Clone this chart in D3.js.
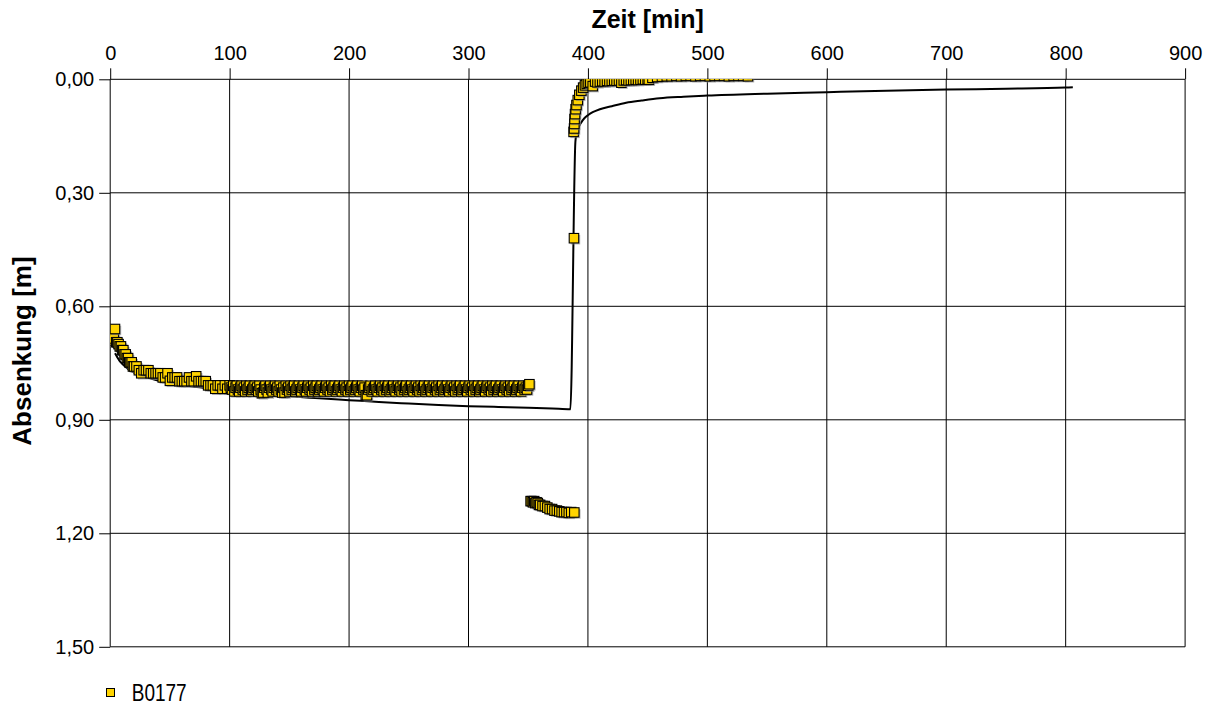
<!DOCTYPE html>
<html>
<head>
<meta charset="utf-8">
<script src="https://cdn.jsdelivr.net/npm/d3@7"></script>
<style>
  html, body { margin: 0; padding: 0; background: #fff; }
  svg { display: block; }
  .tick text { font-family: "Liberation Sans", Arial, sans-serif; font-size: 20px; fill: #000; }
</style>
</head>
<body>
<svg id="chart" width="1211" height="706"></svg>
<script>
// Pumping test B0177: measured drawdown (squares) and fitted model curve (line)

const xTicks = [0, 100, 200, 300, 400, 500, 600, 700, 800, 900];
const yTicks = [0.00, 0.30, 0.60, 0.90, 1.20, 1.50];
const yTickLabels = ["0,00", "0,30", "0,60", "0,90", "1,20", "1,50"];
const xTitle = "Zeit [min]";
const yTitle = "Absenkung [m]";
const seriesName = "B0177";

// Pumping phase, time [min]
const pumpTimes = [
  1, 2, 3, 4, 5, 6, 7, 8, 9, 10, 11, 12, 13, 14, 15, 16, 17, 18, 19, 20,
  22, 24, 26, 28, 30, 32, 34, 36, 38, 40, 42, 44, 46, 48, 50, 52, 54, 56, 58, 60,
  62, 64, 66, 68, 70, 72, 74, 76, 78, 80, 82, 84, 86, 88, 90, 92, 94, 96, 98, 100,
  101, 102, 103, 104, 105, 106, 107, 108, 109, 110,
  111, 112, 113, 114, 115, 116, 117, 118, 119, 120,
  121, 122, 123, 124, 125, 126, 127, 128, 129, 130,
  131, 132, 133, 134, 135, 136, 137, 138, 139, 140,
  141, 142, 143, 144, 145, 146, 147, 148, 149, 150,
  151, 152, 153, 154, 155, 156, 157, 158, 159, 160,
  161, 162, 163, 164, 165, 166, 167, 168, 169, 170,
  171, 172, 173, 174, 175, 176, 177, 178, 179, 180,
  181, 182, 183, 184, 185, 186, 187, 188, 189, 190,
  191, 192, 193, 194, 195, 196, 197, 198, 199, 200,
  201, 202, 203, 204, 205, 206, 207, 208, 209, 210,
  211, 212, 213, 214, 215, 216, 217, 218, 219, 220,
  221, 222, 223, 224, 225, 226, 227, 228, 229, 230,
  231, 232, 233, 234, 235, 236, 237, 238, 239, 240,
  241, 242, 243, 244, 245, 246, 247, 248, 249, 250,
  251, 252, 253, 254, 255, 256, 257, 258, 259, 260,
  261, 262, 263, 264, 265, 266, 267, 268, 269, 270,
  271, 272, 273, 274, 275, 276, 277, 278, 279, 280,
  281, 282, 283, 284, 285, 286, 287, 288, 289, 290,
  291, 292, 293, 294, 295, 296, 297, 298, 299, 300,
  301, 302, 303, 304, 305, 306, 307, 308, 309, 310,
  311, 312, 313, 314, 315, 316, 317, 318, 319, 320,
  321, 322, 323, 324, 325, 326, 327, 328, 329, 330,
  331, 332, 333, 334, 335, 336, 337, 338, 339, 340,
  341, 342, 343, 344, 345, 346, 347, 348, 349, 350,
  351
];
// Pumping phase, drawdown [m]
const pumpDrawdown = [
  0.685, 0.690, 0.685, 0.660, 0.695, 0.695, 0.700, 0.706, 0.706, 0.716, 0.716, 0.727, 0.727, 0.737, 0.737, 0.748, 0.748, 0.748, 0.759, 0.759,
  0.759, 0.769, 0.777, 0.769, 0.769, 0.769, 0.777, 0.777, 0.777, 0.777, 0.777, 0.788, 0.788, 0.777, 0.797, 0.788, 0.788, 0.788, 0.798, 0.798,
  0.798, 0.798, 0.788, 0.798, 0.798, 0.785, 0.798, 0.798, 0.798, 0.798, 0.809, 0.809, 0.809, 0.818, 0.809, 0.809, 0.818, 0.809, 0.818, 0.809,
  0.815, 0.820, 0.810, 0.825, 0.815, 0.810, 0.820, 0.825, 0.815, 0.810,
  0.820, 0.815, 0.825, 0.810, 0.820, 0.815, 0.810, 0.825, 0.820, 0.815,
  0.810, 0.820, 0.815, 0.825, 0.810, 0.820, 0.830, 0.828, 0.815, 0.810,
  0.820, 0.828, 0.815, 0.810, 0.820, 0.825, 0.815, 0.810, 0.820, 0.815,
  0.825, 0.810, 0.820, 0.828, 0.815, 0.828, 0.810, 0.820, 0.815, 0.825,
  0.810, 0.820, 0.815, 0.810, 0.825, 0.820, 0.815, 0.810, 0.820, 0.825,
  0.815, 0.810, 0.820, 0.825, 0.815, 0.810, 0.820, 0.815, 0.825, 0.810,
  0.820, 0.815, 0.810, 0.825, 0.820, 0.815, 0.810, 0.820, 0.825, 0.815,
  0.810, 0.820, 0.815, 0.825, 0.810, 0.820, 0.815, 0.810, 0.825, 0.820,
  0.815, 0.810, 0.820, 0.825, 0.815, 0.810, 0.820, 0.815, 0.825, 0.810,
  0.820, 0.815, 0.810, 0.825, 0.820, 0.815, 0.810, 0.820, 0.825, 0.815,
  0.810, 0.820, 0.815, 0.835, 0.835, 0.820, 0.815, 0.810, 0.825, 0.820,
  0.815, 0.810, 0.820, 0.825, 0.815, 0.810, 0.820, 0.815, 0.825, 0.810,
  0.820, 0.815, 0.810, 0.825, 0.820, 0.815, 0.810, 0.820, 0.825, 0.815,
  0.810, 0.820, 0.815, 0.825, 0.810, 0.820, 0.815, 0.810, 0.825, 0.820,
  0.815, 0.810, 0.820, 0.825, 0.815, 0.810, 0.820, 0.815, 0.825, 0.810,
  0.820, 0.815, 0.810, 0.825, 0.820, 0.815, 0.810, 0.820, 0.825, 0.815,
  0.810, 0.820, 0.815, 0.825, 0.810, 0.820, 0.815, 0.810, 0.825, 0.820,
  0.815, 0.810, 0.820, 0.825, 0.815, 0.810, 0.820, 0.815, 0.825, 0.810,
  0.820, 0.815, 0.810, 0.825, 0.820, 0.815, 0.810, 0.820, 0.825, 0.815,
  0.810, 0.820, 0.815, 0.825, 0.810, 0.820, 0.815, 0.810, 0.825, 0.820,
  0.815, 0.810, 0.820, 0.825, 0.815, 0.810, 0.820, 0.815, 0.825, 0.810,
  0.820, 0.815, 0.810, 0.825, 0.820, 0.815, 0.810, 0.820, 0.825, 0.815,
  0.810, 0.820, 0.815, 0.825, 0.810, 0.820, 0.815, 0.810, 0.825, 0.820,
  0.815, 0.810, 0.820, 0.825, 0.815, 0.810, 0.820, 0.815, 0.820, 0.810,
  0.806
];

// Late pumping readings with offset logger level
const offsetTimes = [352, 353, 354, 355, 356, 357, 358, 359, 360, 362, 364, 366, 368, 370, 372, 374, 376, 378, 380, 382, 384, 386, 388.6];
const offsetDrawdown = [1.115, 1.115, 1.118, 1.115, 1.120, 1.118, 1.120, 1.125, 1.125, 1.128, 1.128, 1.132, 1.136, 1.136, 1.140, 1.140, 1.142, 1.144, 1.144, 1.144, 1.146, 1.144, 1.145];

// Recovery phase
const recoveryTimes = [
  388.0, 388.3, 388.4, 388.6, 388.8, 389.2, 389.7, 390.4, 391.5, 392.8,
  394.5, 396.0, 397.5, 399, 400.5, 402, 404, 406, 408, 410,
  412, 414, 416, 418, 420, 422, 424, 426, 428, 430,
  432, 434, 436, 438, 440, 442, 444, 446, 448, 450,
  451, 454, 458, 462, 466, 470, 474, 478, 482, 486,
  490, 494, 498, 502, 506, 510, 514, 518, 522, 526,
  530, 534
];
const recoveryDrawdown = [
  0.139, 0.420, 0.130, 0.118, 0.105, 0.092, 0.079, 0.068, 0.055, 0.041,
  0.030, 0.022, 0.016, 0.012, 0.009, 0.008, 0.018, 0.006, 0.008, 0.006,
  0.005, 0.006, 0.004, 0.005, 0.004, 0.003, 0.004, 0.003, 0.009, 0.003,
  0.002, 0.003, 0.002, 0.002, 0.001, 0.002, 0.001, 0.000, 0.001, 0.000,
  0.001, -0.004, -0.006, -0.007, -0.008, -0.008, -0.009, -0.008, -0.009, -0.009,
  -0.008, -0.009, -0.009, -0.008, -0.009, -0.009, -0.009, -0.008, -0.009, -0.009,
  -0.009, -0.008
];

// Fitted model curve
const modelTimes = [
  4, 6, 8, 10, 12, 16, 20, 25, 30, 40, 50, 60, 80, 100, 125, 150, 175, 200, 225, 250,
  275, 300, 325, 350, 370, 385.3, 389.5, 390.5, 392, 394, 397, 400, 404, 410, 420, 432,
  445, 460, 480, 500, 550, 600, 650, 700, 750, 800, 806
];
const modelDrawdown = [
  0.724, 0.735, 0.745, 0.752, 0.758, 0.768, 0.775, 0.782, 0.787, 0.796, 0.802, 0.808, 0.816, 0.823, 0.831, 0.838, 0.843, 0.848, 0.853, 0.857,
  0.861, 0.864, 0.866, 0.868, 0.870, 0.872, 0.165, 0.143, 0.128, 0.116, 0.103, 0.095, 0.087, 0.079, 0.071, 0.062,
  0.056, 0.050, 0.046, 0.043, 0.038, 0.034, 0.030, 0.027, 0.025, 0.022, 0.021
];

const markerFill = "#FFD400";
const fontFamily = '"Liberation Sans", Arial, sans-serif';

const svg = d3.select("#chart");
svg.append("rect").attr("width", 1211).attr("height", 706).attr("fill", "#fff");

const x = d3.scaleLinear().domain([0, 900]).range([110.2, 1185.1]);
const y = d3.scaleLinear().domain([0, 1.5]).range([79.3, 646.8]);
const [x0, x1] = x.range();
const [y0, y1] = y.range();

// Grid
const grid = svg.append("g").attr("stroke", "#000").attr("stroke-width", 1);
grid.selectAll("line.v").data(xTicks).join("line").attr("class", "v")
  .attr("x1", d => x(d)).attr("x2", d => x(d)).attr("y1", y0).attr("y2", y1);
grid.selectAll("line.h").data(yTicks).join("line").attr("class", "h")
  .attr("x1", x0).attr("x2", x1).attr("y1", d => y(d)).attr("y2", d => y(d));

// Axes
const xAxis = d3.axisTop(x).tickValues(xTicks).tickFormat(d3.format("d")).tickSize(11).tickPadding(8);
const yAxis = d3.axisLeft(y).tickValues(yTicks).tickFormat((d, i) => yTickLabels[i]).tickSize(11).tickPadding(5);
const gx = svg.append("g").attr("transform", `translate(0,${y0})`).call(xAxis);
const gy = svg.append("g").attr("transform", `translate(${x0},0)`).call(yAxis);
[gx, gy].forEach(g => {
  g.select(".domain").remove();
  g.selectAll(".tick line").attr("stroke", "#000");
});

// Clip to plot frame
svg.append("clipPath").attr("id", "plotClip")
  .append("rect").attr("x", x0).attr("y", y0).attr("width", x1 - x0).attr("height", y1 - y0);
const plot = svg.append("g").attr("clip-path", "url(#plotClip)");

// Model line
const modelData = modelTimes.map((t, i) => [t, modelDrawdown[i]]);
plot.append("path")
  .datum(modelData)
  .attr("fill", "none")
  .attr("stroke", "#000")
  .attr("stroke-width", 2)
  .attr("d", d3.line().x(d => x(d[0])).y(d => y(d[1])).curve(d3.curveMonotoneX));

// Measured points, each with a soft grey drop shadow
const points = [
  ...pumpTimes.map((t, i) => [t, pumpDrawdown[i]]),
  ...offsetTimes.map((t, i) => [t, offsetDrawdown[i]]),
  ...recoveryTimes.map((t, i) => [t, recoveryDrawdown[i]])
];
const s = 9.5;
const marks = plot.append("g").selectAll("g").data(points).join("g")
  .attr("transform", d => `translate(${x(d[0])},${y(d[1])})`);
marks.append("rect")
  .attr("x", -s / 2 + 1.5).attr("y", -s / 2 + 1.5)
  .attr("width", s).attr("height", s)
  .attr("fill", "#8a8a8a").attr("opacity", 0.6);
marks.append("rect")
  .attr("x", -s / 2).attr("y", -s / 2)
  .attr("width", s).attr("height", s)
  .attr("fill", markerFill)
  .attr("stroke", "#000")
  .attr("stroke-width", 1.1);

// Axis titles
svg.append("text")
  .attr("x", (x0 + x1) / 2).attr("y", 28)
  .attr("text-anchor", "middle")
  .attr("font-family", fontFamily).attr("font-weight", "bold").attr("font-size", 25)
  .text(xTitle);
svg.append("text")
  .attr("transform", `translate(31,${(y0 + y1) / 2 - 12}) rotate(-90)`)
  .attr("text-anchor", "middle")
  .attr("font-family", fontFamily).attr("font-weight", "bold").attr("font-size", 26)
  .text(yTitle);

// Legend
const legend = svg.append("g");
legend.append("rect")
  .attr("x", 106.5).attr("y", 688.5).attr("width", 8).attr("height", 8)
  .attr("fill", markerFill).attr("stroke", "#000").attr("stroke-width", 1);
legend.append("text")
  .attr("x", 131.7).attr("y", 700.5)
  .attr("font-family", '"Liberation Sans Narrow", "Arial Narrow", "Liberation Sans", Arial, sans-serif')
  .attr("font-size", 24)
  .attr("textLength", 55).attr("lengthAdjust", "spacingAndGlyphs")
  .text(seriesName);
</script>
</body>
</html>
